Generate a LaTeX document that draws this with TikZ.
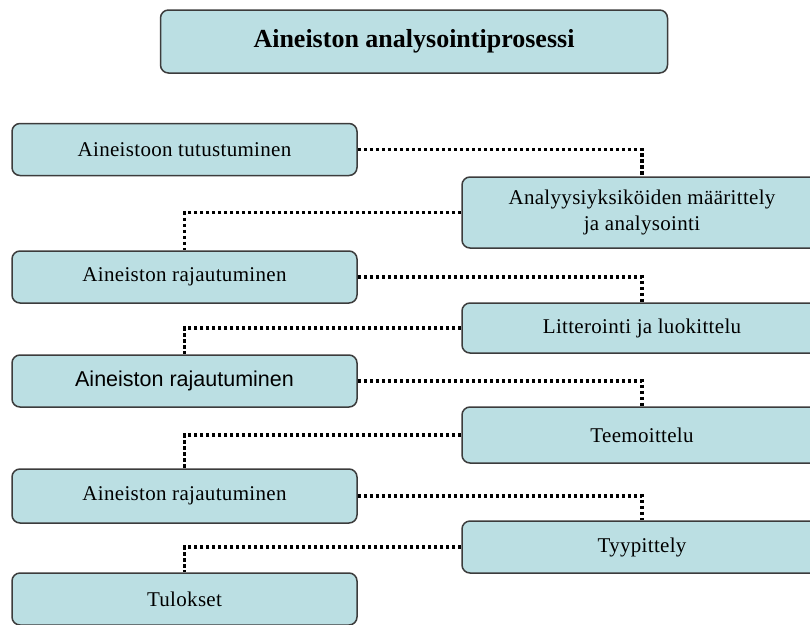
\documentclass[tikz,border=0pt]{standalone}
\usepackage{fontspec}
\setmainfont{Liberation Serif}
\newfontfamily\arialfont{Liberation Sans}
\newfontfamily\boxfont[LetterSpace=1.5]{Liberation Serif}

\definecolor{boxfill}{RGB}{187,223,227}
\definecolor{boxline}{RGB}{60,60,60}

\tikzset{
    stage/.style={draw=boxline, fill=boxfill, line width=1.5pt, rounded corners=8pt,
        minimum height=52pt, inner sep=0pt, align=center,
        font=\boxfont\fontsize{21}{26}\selectfont},
    leftstage/.style={stage, minimum width=345pt},
    rightstage/.style={stage, minimum width=360pt},
    link/.style={line width=3.5pt, dash pattern=on 3.5pt off 2.5pt}
}

\begin{document}
\begin{tikzpicture}[x=1pt, y=-1pt]
        \useasboundingbox (0,0) rectangle (810,624);
        % Title box
        \node[stage, minimum width=507pt, minimum height=63pt,
            font=\bfseries\fontsize{26}{30}\selectfont] (otsikko) at (414,41.5) {Aineiston analysointiprosessi};
        % Draw boxes on the left
        \node[leftstage] (tutustuminen) at (184.5,149.5) {Aineistoon tutustuminen};
        \node[leftstage] (rajaus1) at (184.5,277) {Aineiston rajautuminen};
        \node[leftstage, font=\arialfont\fontsize{21.5}{26}\selectfont] (rajaus2) at (184.5,381) {Aineiston rajautuminen};
        \node[leftstage, minimum height=54pt] (rajaus3) at (184.5,496) {Aineiston rajautuminen};
        \node[leftstage] (tulokset) at (184.5,599) {Tulokset};
        % Draw boxes on the right
        \node[rightstage, minimum height=71pt] (maarittely) at (642,212.5) {Analyysiyksiköiden määrittely\\ja analysointi};
        \node[rightstage, minimum height=50pt] (litterointi) at (642,328) {Litterointi ja luokittelu};
        \node[rightstage, minimum height=56pt] (teemoittelu) at (642,435) {Teemoittelu};
        \node[rightstage] (tyypittely) at (642,547) {Tyypittely};
        % Draw box connects, left to right
        \foreach \x/\y in {tutustuminen/maarittely, rajaus1/litterointi, rajaus2/teemoittelu, rajaus3/tyypittely}{
            \draw[link] (\x.east) -| (\y.north);
        }
        % Draw box connects, right to left
        \foreach \x/\y in {maarittely/rajaus1, litterointi/rajaus2, teemoittelu/rajaus3, tyypittely/tulokset}{
            \draw[link] (\x.west) -| (\y.north);
        }
    \end{tikzpicture}
\end{document}
